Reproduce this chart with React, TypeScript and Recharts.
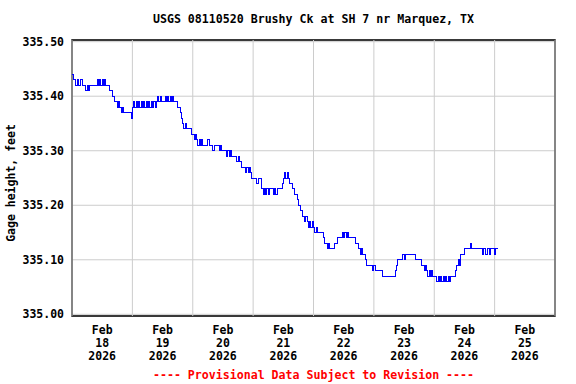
import React from 'react';
import { LineChart, Line, XAxis, YAxis, CartesianGrid, ReferenceArea, ReferenceLine } from 'recharts';

const chartTitle = 'USGS 08110520 Brushy Ck at SH 7 nr Marquez, TX';
const yAxisTitle = 'Gage height, feet';
const footerNote = '---- Provisional Data Subject to Revision ----';

const monthLabel = 'Feb';
const yearLabel = '2026';
const dayLabels = ['18', '19', '20', '21', '22', '23', '24', '25'];
// hours since Feb 18 00:00
const dayStartHours = [0, 24, 48, 72, 96, 120, 144, 168, 192];
const dayNoonHours = [12, 36, 60, 84, 108, 132, 156, 180];
const yTicks = [335.0, 335.1, 335.2, 335.3, 335.4, 335.5];
const yDomain = [334.9969, 335.5031];
const stepHours = 0.5;

// gage height, feet, every 30 minutes
const feb18 = [
  335.44, 335.43, 335.43, 335.42, 335.43, 335.42, 335.42, 335.43, 335.42, 335.42, 335.42, 335.41,
  335.42, 335.41, 335.42, 335.42, 335.42, 335.42, 335.42, 335.42, 335.43, 335.42, 335.43, 335.42,
  335.43, 335.42, 335.43, 335.42, 335.42, 335.42, 335.41, 335.41, 335.40, 335.40, 335.39, 335.39,
  335.38, 335.39, 335.38, 335.37, 335.38, 335.37, 335.37, 335.37, 335.37, 335.37, 335.37, 335.36,
];
const feb19 = [
  335.38, 335.39, 335.38, 335.39, 335.38, 335.39, 335.38, 335.39, 335.38, 335.39, 335.38, 335.39,
  335.38, 335.39, 335.38, 335.39, 335.38, 335.39, 335.38, 335.39, 335.40, 335.39, 335.40, 335.39,
  335.39, 335.39, 335.40, 335.39, 335.40, 335.39, 335.40, 335.39, 335.40, 335.39, 335.39, 335.39,
  335.38, 335.38, 335.37, 335.36, 335.35, 335.34, 335.35, 335.34, 335.34, 335.34, 335.34, 335.33,
];
const feb20 = [
  335.33, 335.32, 335.33, 335.32, 335.31, 335.32, 335.31, 335.32, 335.31, 335.31, 335.31, 335.31,
  335.32, 335.31, 335.31, 335.31, 335.30, 335.31, 335.31, 335.31, 335.31, 335.30, 335.31, 335.30,
  335.30, 335.30, 335.30, 335.29, 335.30, 335.29, 335.30, 335.29, 335.29, 335.29, 335.29, 335.28,
  335.29, 335.28, 335.28, 335.27, 335.27, 335.27, 335.26, 335.27, 335.26, 335.27, 335.26, 335.25,
];
const feb21 = [
  335.25, 335.25, 335.25, 335.24, 335.25, 335.25, 335.25, 335.23, 335.22, 335.23, 335.22, 335.23,
  335.22, 335.23, 335.23, 335.23, 335.22, 335.23, 335.22, 335.23, 335.23, 335.23, 335.23, 335.24,
  335.25, 335.26, 335.25, 335.26, 335.25, 335.24, 335.24, 335.23, 335.23, 335.22, 335.22, 335.21,
  335.20, 335.20, 335.19, 335.18, 335.18, 335.17, 335.18, 335.17, 335.16, 335.17, 335.16, 335.17,
];
const feb22 = [
  335.16, 335.15, 335.16, 335.15, 335.15, 335.15, 335.15, 335.15, 335.14, 335.13, 335.13, 335.12,
  335.13, 335.12, 335.12, 335.12, 335.12, 335.13, 335.13, 335.14, 335.14, 335.14, 335.14, 335.15,
  335.14, 335.15, 335.14, 335.15, 335.14, 335.14, 335.14, 335.14, 335.14, 335.13, 335.13, 335.13,
  335.12, 335.11, 335.12, 335.11, 335.11, 335.10, 335.09, 335.09, 335.09, 335.09, 335.09, 335.08,
];
const feb23 = [
  335.09, 335.08, 335.08, 335.08, 335.08, 335.08, 335.08, 335.07, 335.07, 335.07, 335.07, 335.07,
  335.07, 335.07, 335.07, 335.07, 335.07, 335.08, 335.09, 335.10, 335.10, 335.10, 335.10, 335.11,
  335.10, 335.11, 335.11, 335.11, 335.11, 335.11, 335.11, 335.11, 335.11, 335.10, 335.10, 335.10,
  335.10, 335.10, 335.09, 335.09, 335.08, 335.09, 335.08, 335.07, 335.08, 335.07, 335.08, 335.07,
];
const feb24 = [
  335.07, 335.07, 335.06, 335.07, 335.06, 335.07, 335.06, 335.07, 335.06, 335.07, 335.06, 335.07,
  335.06, 335.07, 335.07, 335.07, 335.07, 335.08, 335.09, 335.10, 335.09, 335.11, 335.11, 335.11,
  335.12, 335.12, 335.12, 335.12, 335.12, 335.13, 335.12, 335.12, 335.12, 335.12, 335.12, 335.12,
  335.12, 335.12, 335.11, 335.12, 335.12, 335.11, 335.12, 335.12, 335.11, 335.12, 335.12, 335.12,
];
const feb25 = [335.11, 335.12, 335.12, 335.12];

const allValues = [...feb18, ...feb19, ...feb20, ...feb21, ...feb22, ...feb23, ...feb24, ...feb25];
const data = allValues.map((v, i) => ({ t: i * stepHours, gage: v }));

const FONT = '"DejaVu Sans Mono", "Liberation Mono", monospace';

const DateTick = (props: any) => {
  const { x, y, payload } = props;
  const idx = dayNoonHours.indexOf(payload.value);
  if (idx < 0) return null;
  return (
    <text x={x} y={y} textAnchor="middle" fontFamily={FONT} fontWeight="bold" fontSize={11.5} fill="#000">
      <tspan x={x} dy={10}>{monthLabel}</tspan>
      <tspan x={x} dy={12.8}>{dayLabels[idx]}</tspan>
      <tspan x={x} dy={13}>{yearLabel}</tspan>
    </text>
  );
};

export default function App() {
  return (
    <div style={{ position: 'absolute', left: 0, top: 0, width: 576, height: 384, background: '#fff' }}>
      <LineChart
        width={576}
        height={384}
        data={data}
        margin={{ top: 40, right: 21, bottom: 24, left: 0 }}
      >
        <CartesianGrid stroke="#cccccc" strokeWidth={1} vertical={false} />
        {dayStartHours.map((h) => (
          <ReferenceLine key={h} x={h} stroke="#cccccc" strokeWidth={1} ifOverflow="visible" />
        ))}
        <XAxis
          dataKey="t"
          type="number"
          domain={[0, 192]}
          allowDataOverflow
          ticks={dayNoonHours}
          interval={0}
          tick={<DateTick />}
          tickLine={false}
          axisLine={false}
          height={44}
        />
        <YAxis
          type="number"
          domain={yDomain}
          allowDataOverflow
          ticks={yTicks}
          interval={0}
          tickFormatter={(v: number) => v.toFixed(2)}
          tick={{ fontFamily: FONT, fontWeight: 'bold', fontSize: 11.5, fill: '#000' }}
          tickLine={false}
          axisLine={false}
          width={72}
        />
        <Line
          type="stepAfter"
          dataKey="gage"
          stroke="#0000ff"
          strokeWidth={1}
          dot={false}
          isAnimationActive={false}
          shapeRendering="crispEdges"
        />
        <ReferenceArea
          x1={0}
          x2={192}
          y1={yDomain[0]}
          y2={yDomain[1]}
          fill="none"
          fillOpacity={0}
          stroke="#000"
          strokeWidth={1.5}
          ifOverflow="visible"
        />
      </LineChart>
      <div
        style={{
          position: 'absolute', left: 72, top: 12, width: 483, height: 14, lineHeight: '14px',
          textAlign: 'center', fontFamily: FONT, fontWeight: 'bold', fontSize: 11.6, color: '#000',
          whiteSpace: 'pre',
        }}
      >
        {chartTitle}
      </div>
      <div
        style={{
          position: 'absolute', left: -89, top: 176, width: 200, height: 14, lineHeight: '14px',
          textAlign: 'center', fontFamily: FONT, fontWeight: 'bold', fontSize: 11.5, color: '#000',
          transform: 'rotate(-90deg)', whiteSpace: 'pre',
        }}
      >
        {yAxisTitle}
      </div>
      <div
        style={{
          position: 'absolute', left: 72, top: 368, width: 483, height: 14, lineHeight: '14px',
          textAlign: 'center', fontFamily: FONT, fontWeight: 'bold', fontSize: 11.6, color: '#ff0000',
          whiteSpace: 'pre',
        }}
      >
        {footerNote}
      </div>
    </div>
  );
}
